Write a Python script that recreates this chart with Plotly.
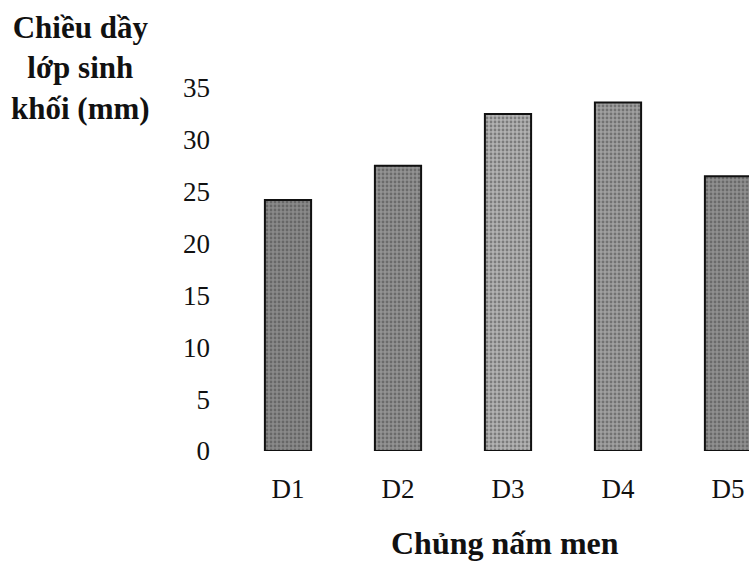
import plotly.graph_objects as go

# Biofilm thickness per yeast strain
strains = ["D1", "D2", "D3", "D4", "D5"]
thickness_mm = [24.2, 27.5, 32.5, 33.6, 26.5]
y_ticks = [0, 5, 10, 15, 20, 25, 30, 35]
bar_fills = ["#8a8a8a", "#939393", "#b2b2b2", "#a0a0a0", "#909090"]

W, H = 749, 567
ML, MR, MT, MB = 233, 0, 88, 116
plot_w = W - ML - MR
plot_h = H - MT - MB
cat_px = 110.0  # width of one category slot

fig = go.Figure(
    go.Bar(
        x=strains,
        y=thickness_mm,
        width=0.42,
        marker=dict(
            color=bar_fills,
            line=dict(color="#111111", width=2),
            pattern=dict(shape=".", fgcolor="#f2f2f2", size=4, solidity=0.4),
        ),
        hoverinfo="skip",
    )
)

serif = "Liberation Serif, Times New Roman, serif"

fig.update_layout(
    width=W,
    height=H,
    margin=dict(l=ML, r=MR, t=MT, b=MB, pad=0),
    paper_bgcolor="white",
    plot_bgcolor="white",
    showlegend=False,
    font=dict(family=serif, color="#111111", size=27),
    xaxis=dict(
        range=[-0.5, -0.5 + plot_w / cat_px],
        showgrid=False,
        showline=False,
        zeroline=False,
        ticks="",
        ticklabelstandoff=19,
        tickfont=dict(family=serif, size=27, color="#111111"),
    ),
    yaxis=dict(
        range=[0, 35],
        tickvals=y_ticks,
        showgrid=False,
        showline=False,
        zeroline=False,
        ticks="",
        ticklabelstandoff=22,
        tickfont=dict(family=serif, size=27, color="#111111"),
    ),
    annotations=[
        dict(
            text="<b>Chiều dầy<br>lớp sinh<br>khối (mm)</b>",
            xref="paper", yref="paper",
            x=(80 - ML) / plot_w, y=(H - MB - 8) / plot_h,
            xanchor="center", yanchor="top",
            showarrow=False, align="center",
            font=dict(family=serif, size=31, color="#111111"),
        ),
        dict(
            text="<b>Chủng nấm men</b>",
            xref="paper", yref="paper",
            x=(505 - ML) / plot_w, y=(MT + plot_h - 543) / plot_h,
            xanchor="center", yanchor="middle",
            showarrow=False,
            font=dict(family=serif, size=32, color="#111111"),
        ),
    ],
)

fig.write_html("out.html")
